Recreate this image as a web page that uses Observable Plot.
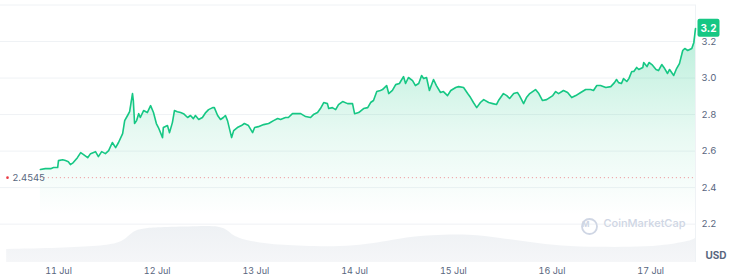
<!DOCTYPE html>
<html>
<head>
<meta charset="utf-8">
<script src="https://cdn.jsdelivr.net/npm/d3@7"></script>
<script src="https://cdn.jsdelivr.net/npm/@observablehq/plot@0.6"></script>
<style>
  html, body { margin: 0; padding: 0; background: #fff; }
  body { width: 729px; height: 278px; overflow: hidden; font-family: Inter, "Noto Sans", sans-serif; }
</style>
</head>
<body>
<div id="chart"></div>
<script>
// Hours since 11 Jul 00:00
const hours = [-4.4,-3.2,-1.9,-1.2,-0.2,0.0,1.0,1.7,2.4,2.9,3.6,4.6,5.4,6.1,7.1,7.8,9.0,9.7,10.5,11.4,12.2,13.1,13.9,14.6,15.6,16.1,16.8,17.3,18.0,18.2,18.5,19.0,19.5,19.9,20.7,21.6,22.4,23.1,23.8,24.3,25.3,25.5,26.5,27.0,27.7,28.2,28.9,29.7,30.4,31.4,32.1,32.8,33.3,34.1,35.0,35.8,36.5,37.5,37.9,38.7,39.4,40.1,40.6,41.1,42.1,42.6,43.5,44.5,45.2,46.2,47.2,47.7,48.6,49.9,51.1,52.3,53.3,54.0,55.2,55.9,56.9,58.1,58.9,60.1,61.3,62.0,63.0,63.7,64.5,65.4,65.7,66.6,67.4,68.1,69.1,70.3,71.5,72.0,73.0,74.2,75.2,75.9,76.6,77.4,78.3,78.8,79.8,80.3,81.2,82.0,82.9,83.9,84.4,85.1,86.1,86.8,87.6,88.3,88.8,89.5,90.2,91.2,91.9,92.9,93.6,94.6,95.4,96.6,97.3,98.5,99.5,100.2,100.9,101.7,102.6,103.4,104.6,105.6,106.5,107.0,108.2,109.0,109.7,110.7,111.6,112.1,113.1,113.8,114.6,116.0,116.8,117.7,118.7,120.2,120.9,121.6,122.8,123.8,124.8,125.8,127.0,128.2,129.4,130.1,130.9,131.8,133.1,134.3,135.2,135.7,136.2,136.9,137.4,138.2,138.7,139.4,139.9,140.6,141.1,142.1,142.3,143.1,143.6,144.3,145.3,145.9,146.7,147.4,148.1,148.6,149.6,150.3,151.0,151.8,152.3,153.0,154.0,154.5,154.9];
const prices = [2.499,2.504,2.504,2.510,2.510,2.548,2.553,2.548,2.542,2.526,2.537,2.564,2.592,2.581,2.564,2.586,2.597,2.570,2.597,2.586,2.603,2.647,2.619,2.647,2.696,2.767,2.795,2.816,2.915,2.877,2.751,2.767,2.805,2.784,2.822,2.811,2.849,2.811,2.751,2.729,2.674,2.729,2.740,2.701,2.756,2.822,2.816,2.811,2.805,2.784,2.795,2.778,2.795,2.773,2.784,2.811,2.827,2.838,2.838,2.795,2.773,2.784,2.795,2.767,2.674,2.712,2.729,2.740,2.751,2.740,2.701,2.729,2.734,2.745,2.751,2.767,2.778,2.773,2.784,2.784,2.805,2.805,2.805,2.789,2.784,2.800,2.811,2.833,2.866,2.860,2.833,2.838,2.827,2.855,2.871,2.860,2.860,2.805,2.811,2.833,2.838,2.866,2.877,2.926,2.932,2.937,2.959,2.915,2.932,2.964,2.970,3.008,2.970,3.003,2.986,2.959,2.970,3.014,2.997,3.003,2.932,2.992,2.959,2.921,2.926,2.904,2.932,2.948,2.953,2.948,2.915,2.893,2.866,2.838,2.866,2.882,2.866,2.860,2.855,2.877,2.915,2.904,2.888,2.915,2.921,2.904,2.860,2.893,2.915,2.937,2.915,2.877,2.882,2.904,2.926,2.915,2.932,2.921,2.893,2.904,2.921,2.937,2.937,2.932,2.959,2.959,2.948,2.953,2.975,2.992,2.975,2.970,2.997,2.981,2.997,3.036,3.036,3.058,3.047,3.058,3.085,3.063,3.085,3.074,3.047,3.041,3.074,3.052,3.025,3.047,3.014,3.052,3.079,3.151,3.162,3.151,3.162,3.195,3.271];

// Trading volume (millions USD, estimated)
const volHours = [-12.6,0.5,10.2,15.1,17.0,18.7,21.2,24.8,34.5,39.4,41.3,43.1,50.4,58.9,72.2,83.2,90.5,100.2,107.5,114.8,122.1,131.8,139.1,146.4,153.7,154.9];
const volumes  = [130,140,160,190,260,320,340,350,360,360,320,240,180,160,150,240,270,280,240,200,160,150,150,160,210,240];

const dayHours  = [0, 24, 48, 72, 96, 120, 144];
const dayLabels = ["11 Jul", "12 Jul", "13 Jul", "14 Jul", "15 Jul", "16 Jul", "17 Jul"];
const yTicks    = [2.2, 2.4, 2.6, 2.8, 3.0, 3.2];
const gridTicks = [2.2, 2.4, 2.6, 2.8, 3.0, 3.2, 3.4];
const refPrice  = 2.4545;
const currency  = "USD";
const watermark = "CoinMarketCap";

const green = "#16c784";
const axisGray = "#58667e";
const yBase = 1.99;
const volPerPrice = 1825; // volume units per price unit for the bottom band

const rows = hours.map((h, i) => ({h, p: prices[i]}));
const volRows = volHours.map((h, i) => ({h, v: volumes[i]}));
const last = rows[rows.length - 1];
const lastLabel = (Math.floor(last.p * 10) / 10).toFixed(1);

const defs = () => {
  const d = d3.create("svg:defs");
  const g = d.append("linearGradient").attr("id", "priceGrad").attr("x1", 0).attr("y1", 0).attr("x2", 0).attr("y2", 1);
  g.append("stop").attr("offset", "0%").attr("stop-color", green).attr("stop-opacity", 0.3);
  g.append("stop").attr("offset", "45%").attr("stop-color", green).attr("stop-opacity", 0.1);
  g.append("stop").attr("offset", "80%").attr("stop-color", green).attr("stop-opacity", 0);
  const v = d.append("linearGradient").attr("id", "volGrad").attr("x1", 0).attr("y1", 0).attr("x2", 0).attr("y2", 1);
  v.append("stop").attr("offset", "0%").attr("stop-color", "#eef1f4");
  v.append("stop").attr("offset", "100%").attr("stop-color", "#f5f6f8");
  return d.node();
};

const chart = Plot.plot({
  width: 729,
  height: 278,
  marginTop: 4.5,
  marginRight: 34,
  marginBottom: 16,
  marginLeft: 0,
  style: {fontFamily: "Inter, 'Noto Sans', sans-serif", fontSize: "9px", color: axisGray, background: "#fff"},
  x: {domain: [-14.1, 154.9]},
  y: {domain: [yBase, 3.4]},
  marks: [
    defs,
    Plot.ruleY(gridTicks, {stroke: "#eff2f5", strokeWidth: 1}),
    Plot.ruleX([last.h], {stroke: "#eff2f5", strokeWidth: 1}),
    Plot.areaY(volRows, {x: "h", y1: yBase, y2: d => yBase + d.v / volPerPrice, fill: "url(#volGrad)", curve: "basis"}),
    Plot.areaY(rows, {x: "h", y1: yBase, y2: "p", fill: "url(#priceGrad)"}),
    Plot.ruleY([refPrice], {x1: hours[0], x2: last.h, stroke: "#ea3943", strokeOpacity: 0.55, strokeDasharray: "1,3", strokeWidth: 1}),
    Plot.lineY(rows, {x: "h", y: "p", stroke: green, strokeWidth: 1.6, strokeLinejoin: "round"}),
    Plot.dot([refPrice], {y: d => d, frameAnchor: "left", dx: 7, r: 1.3, fill: "#ea3943"}),
    Plot.text([refPrice], {y: d => d, text: d => String(d), frameAnchor: "left", dx: 12, textAnchor: "start", fill: axisGray, fontSize: 9.5}),
    Plot.axisX({ticks: dayHours, tickFormat: d => dayLabels[dayHours.indexOf(d)], tickSize: 0, tickPadding: 5, fontSize: 9, fill: axisGray, label: null}),
    Plot.axisY({anchor: "right", ticks: yTicks, tickFormat: d => d.toFixed(1), tickSize: 0, tickPadding: 6, fontSize: 9.5, fill: axisGray, label: null}),
    Plot.text([watermark], {text: d => d, frameAnchor: "bottom-right", dx: -10, dy: -36, textAnchor: "end", fontSize: 11, fill: "#cfd6e4", fontWeight: 500}),
    Plot.dot([watermark], {frameAnchor: "bottom-right", dx: -106, dy: -36, r: 7.5, stroke: "#cfd6e4", strokeWidth: 1.8, fill: "none"}),
    Plot.text([watermark], {text: d => "M", frameAnchor: "bottom-right", dx: -106, dy: -36, fontSize: 8, fontWeight: 700, fill: "#cfd6e4"}),
    Plot.text([currency], {text: d => d, frameAnchor: "bottom-right", dx: 10, dy: -4, textAnchor: "start", fontSize: 10, fontWeight: 700, fill: axisGray}),
    Plot.text([last], {x: "h", y: "p", text: d => lastLabel, dx: 13, fontSize: 10, fontWeight: 700, fill: "#fff", className: "price-tag"})
  ]
});

document.getElementById("chart").append(chart);

// Green badge behind the latest price label
const tagGroup = chart.querySelector("g.price-tag") || chart.querySelector(".price-tag");
if (tagGroup) {
  const t = tagGroup.querySelector("text");
  if (t) {
    const bb = t.getBBox();
    const r = document.createElementNS("http://www.w3.org/2000/svg", "rect");
    const w = 22, h = 18;
    r.setAttribute("x", bb.x + bb.width / 2 - w / 2);
    r.setAttribute("y", bb.y + bb.height / 2 - h / 2);
    r.setAttribute("width", w);
    r.setAttribute("height", h);
    r.setAttribute("rx", 2);
    r.setAttribute("fill", green);
    const tr = t.getAttribute("transform");
    if (tr) r.setAttribute("transform", tr);
    t.parentNode.insertBefore(r, t);
  }
}
</script>
</body>
</html>
